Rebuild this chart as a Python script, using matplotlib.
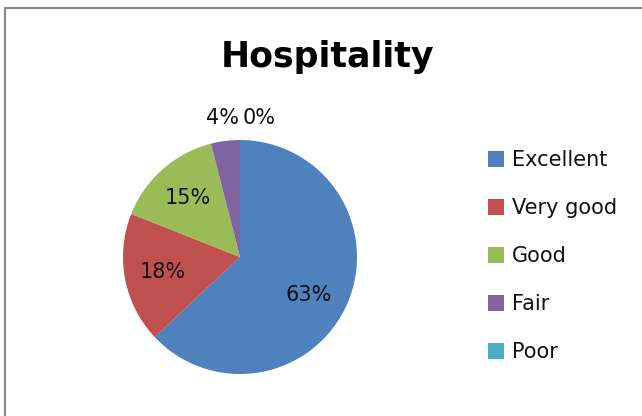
import numpy as np
import matplotlib.pyplot as plt
from matplotlib.patches import Rectangle, Patch

# --- data ---
categories = ['Excellent', 'Very good', 'Good', 'Fair', 'Poor']
values = [63, 18, 15, 4, 0]
colors = ['#4F81BD', '#C0504D', '#9BBB59', '#8064A2', '#4BACC6']

plt.rcParams['font.family'] = ['DejaVu Sans']

W, H = 642, 416
fig = plt.figure(figsize=(W / 100, H / 100), dpi=100)

# frame around the chart (runs off the right/bottom edge like the reference)
fig.patches.append(Rectangle((5 / W, -0.05), 1.1, 1 - 7.5 / H + 0.05,
                             transform=fig.transFigure, fill=False,
                             edgecolor='#8c8c8c', linewidth=1.6))

# pie axes: centre ~(240, 257) px, radius ~117 px
r = 117
ax = fig.add_axes([(240 - r) / W, 1 - (257 + r) / H, 2 * r / W, 2 * r / H])
wedges, texts, autotexts = ax.pie(values, colors=colors, startangle=90,
                                  counterclock=False,
                                  autopct=lambda p: f'{p:.0f}%',
                                  pctdistance=0.67,
                                  wedgeprops=dict(linewidth=0),
                                  textprops=dict(fontsize=15, color='#111111'))
ax.set_xlim(-1, 1)
ax.set_ylim(-1, 1)

# label tweaks: small slices outside the pie, big slice label a bit lower
for w, t, v in zip(wedges, autotexts, values):
    ang = np.deg2rad((w.theta1 + w.theta2) / 2)
    if v < 5:
        if v == 0:
            ang -= np.deg2rad(8)
        t.set_position((1.2 * np.cos(ang), 1.2 * np.sin(ang)))
    elif v == max(values):
        ang -= np.deg2rad(6)
        t.set_position((0.67 * np.cos(ang), 0.67 * np.sin(ang)))

fig.text(328 / W, 1 - 67 / H, 'Hospitality', fontsize=25, fontweight='bold',
         ha='center', va='baseline', color='black')

handles = [Patch(facecolor=c, edgecolor='none') for c in colors]
fig.legend(handles, categories, loc='upper left',
           bbox_to_anchor=(480 / W, 1 - 142 / H), frameon=False,
           fontsize=15, handlelength=0.77, handleheight=0.77,
           handletextpad=0.38, labelspacing=1.34, borderaxespad=0,
           labelcolor='#111111')

fig.savefig('out.png', dpi=100)
